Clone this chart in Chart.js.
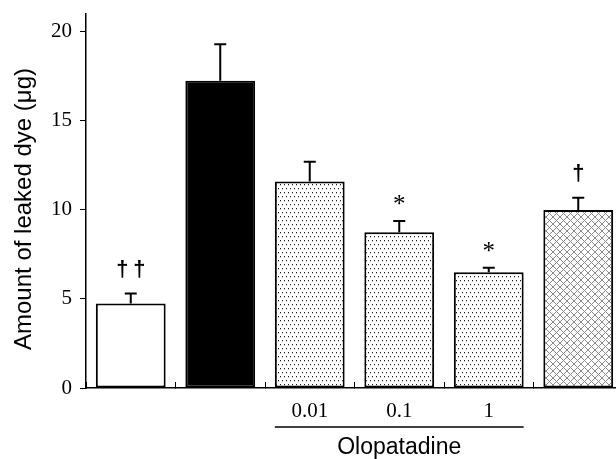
<!DOCTYPE html>
<html><head><meta charset="utf-8">
<script src="https://cdn.jsdelivr.net/npm/chart.js@4/dist/chart.umd.min.js"></script>
<style>
html,body{margin:0;padding:0;overflow:hidden;background:#fff;width:616px;height:459px}
#wrap{width:623px;height:459px;position:relative}
</style>
</head><body><div id="wrap"><canvas id="c" width="623" height="459"></canvas></div>
<script>
// ---- data ----
const categories = ['', '', '0.01', '0.1', '1', ''];
const values = [4.75, 17.25, 11.6, 8.75, 6.5, 10.0];
const errors = [0.55, 2.05, 1.1, 0.63, 0.25, 0.68];
const marks = ['††', '', '', '*', '*', '†'];
const yTicks = [0, 5, 10, 15, 20];
const yMax = 21;
const groupLabel = 'Olopatadine';
const groupRange = [2, 4];
const yTitle = 'Amount of leaked dye (μg)';

// ---- patterns ----
function dotPattern() {
  const c = document.createElement('canvas'); c.width = 4; c.height = 8;
  const g = c.getContext('2d');
  g.fillStyle = '#fff'; g.fillRect(0, 0, 4, 8);
  g.fillStyle = '#1a1a1a'; g.fillRect(0, 0, 1, 1); g.fillRect(2, 4, 1, 1);
  g.fillStyle = '#c8c8c8'; g.fillRect(0, 1, 1, 1); g.fillRect(2, 5, 1, 1);
  return g.createPattern(c, 'repeat');
}
function crossPattern() {
  const n = 7;
  const c = document.createElement('canvas'); c.width = n; c.height = n;
  const g = c.getContext('2d');
  g.fillStyle = '#fff'; g.fillRect(0, 0, n, n);
  g.fillStyle = '#8a8a8a';
  for (let i = 0; i < n; i++) { g.fillRect(i, i, 1, 1); g.fillRect(n - 1 - i, i, 1, 1); }
  return g.createPattern(c, 'repeat');
}
const dots = dotPattern(), cross = crossPattern();
const fills = ['#ffffff', '#000000', dots, dots, dots, cross];

const extras = {
  id: 'extras',
  afterDatasetsDraw(chart) {
    const ctx = chart.ctx, y = chart.scales.y;
    const meta = chart.getDatasetMeta(0);
    ctx.save();
    ctx.strokeStyle = '#000'; ctx.fillStyle = '#000'; ctx.lineWidth = 2;
    meta.data.forEach((bar, i) => {
      const yb = y.getPixelForValue(values[i]);
      const yt = y.getPixelForValue(values[i] + errors[i]);
      ctx.beginPath();
      ctx.moveTo(bar.x, yb); ctx.lineTo(bar.x, yt);
      ctx.moveTo(bar.x - 6, yt); ctx.lineTo(bar.x + 6, yt);
      ctx.stroke();
      const m = marks[i];
      if (m) {
        let font, off;
        if (m[0] === '*') { font = '25px "Liberation Serif"'; off = 21; }
        else { font = 'bold 22px "Liberation Sans"'; off = 25; }
        ctx.font = font; ctx.textAlign = 'center'; ctx.textBaseline = 'alphabetic';
        const cy = yt - off;
        const parts = m.length === 2 ? [[m[0], -8.5], [m[1], 8.5]] : [[m, 0]];
        parts.forEach(([ch, dx]) => {
          const mt = ctx.measureText(ch);
          const base = cy + (mt.actualBoundingBoxAscent - mt.actualBoundingBoxDescent) / 2;
          ctx.fillText(ch, bar.x + dx, base);
        });
      }
    });
    // group line and label
    const b0 = meta.data[groupRange[0]], b1 = meta.data[groupRange[1]];
    const xl = b0.x - b0.width / 2, xr = b1.x + b1.width / 2;
    ctx.lineWidth = 1.3;
    ctx.beginPath(); ctx.moveTo(xl, 427); ctx.lineTo(xr, 427); ctx.stroke();
    ctx.font = '23px "Liberation Sans"'; ctx.textAlign = 'center'; ctx.textBaseline = 'middle';
    ctx.fillText(groupLabel, (b0.x + b1.x) / 2, 448);
    // y title
    ctx.save();
    ctx.font = '24px "Liberation Sans"';
    ctx.translate(24, 209); ctx.rotate(-Math.PI / 2);
    ctx.fillText(yTitle, 0, 0);
    ctx.restore();
    ctx.restore();
  }
};

new Chart(document.getElementById('c'), {
  type: 'bar',
  data: {
    labels: categories,
    datasets: [{
      data: values,
      backgroundColor: fills,
      borderColor: '#000',
      borderWidth: 2,
      borderSkipped: false,
      categoryPercentage: 1,
      barPercentage: 0.78
    }]
  },
  options: {
    responsive: false,
    devicePixelRatio: 1,
    animation: false,
    events: [],
    layout: { padding: { top: 14, left: 0, right: 0, bottom: 0 } },
    plugins: { legend: { display: false }, tooltip: { enabled: false }, title: { display: false } },
    scales: {
      x: {
        type: 'category',
        offset: true,
        grid: { offset: true, drawOnChartArea: false, drawTicks: true, tickLength: -6, color: '#000', lineWidth: 1 },
        border: { display: true, color: '#000', width: 1.5 },
        ticks: { font: { family: 'Liberation Serif', size: 21 }, color: '#000', padding: 17, maxRotation: 0, autoSkip: false },
        afterFit(s) { s.height = 71; }
      },
      y: {
        min: 0, max: yMax,
        afterBuildTicks(s) { s.ticks = yTicks.map(v => ({ value: v })); },
        grid: { drawOnChartArea: false, drawTicks: true, tickLength: 6, color: '#000', lineWidth: 1 },
        border: { display: true, color: '#000', width: 1.5 },
        ticks: { font: { family: 'Liberation Serif', size: 21, lineHeight: 0.4 }, color: '#000', padding: 8 },
        afterFit(s) { s.width = 86; }
      }
    }
  },
  plugins: [extras]
});
</script>
</body></html>
